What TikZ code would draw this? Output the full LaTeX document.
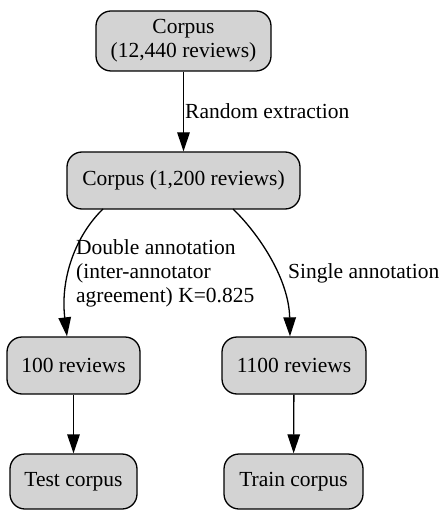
\documentclass[tikz,border=0pt]{standalone}
\usepackage{fontspec}
\setmainfont{Liberation Serif}
\usetikzlibrary{arrows.meta}
\definecolor{gvgray}{RGB}{211,211,211}
\begin{document}
\begin{tikzpicture}[x=1pt,y=-1pt,
  box/.style={draw=black, line width=1.3pt, fill=gvgray, rounded corners=15pt,
    align=center, inner sep=0pt, font=\fontsize{21.5}{24}\selectfont},
  lbl/.style={anchor=west, align=left, inner sep=0pt, font=\fontsize{21.5}{24}\selectfont},
  edge/.style={line width=1.3pt, -{Triangle[length=19pt,width=12.5pt]}}]
\useasboundingbox (0,0) rectangle (441,510);
\node[box, minimum width=175pt, minimum height=60pt] (top) at (183.5,41) {Corpus\\(12,440 reviews)};
\node[box, minimum width=233pt, minimum height=57pt] (mid) at (183.5,180.5) {Corpus (1,200 reviews)};
\node[box, minimum width=133pt, minimum height=57pt] (hund) at (73.5,365.5) {100 reviews};
\node[box, minimum width=144pt, minimum height=57pt] (thou) at (294,365.5) {1100 reviews};
\node[box, minimum width=127pt, minimum height=55pt] (test) at (73.5,481.5) {Test corpus};
\node[box, minimum width=139pt, minimum height=55pt] (train) at (293.5,481.5) {Train corpus};
\draw[edge] (top) -- (mid);
\coordinate (ls) at (103,209);
\coordinate (rs) at (233,209);
\draw[edge] (ls) .. controls (76,235) and (60,278) .. (hund.north -| 67,0);
\draw[edge] (rs) .. controls (260,235) and (289,280) .. (thou.north -| 290,0);
\draw[edge] (hund) -- (test);
\draw[edge] (thou) -- (train);
\node[lbl] (l1) at (185,111) {Random extraction};
\node[lbl] (l2) at (76,273) {Double annotation\\(inter-annotator\\agreement) K=0.825};
\node[lbl] (l3) at (288,273) {Single annotation};
\end{tikzpicture}
\end{document}
